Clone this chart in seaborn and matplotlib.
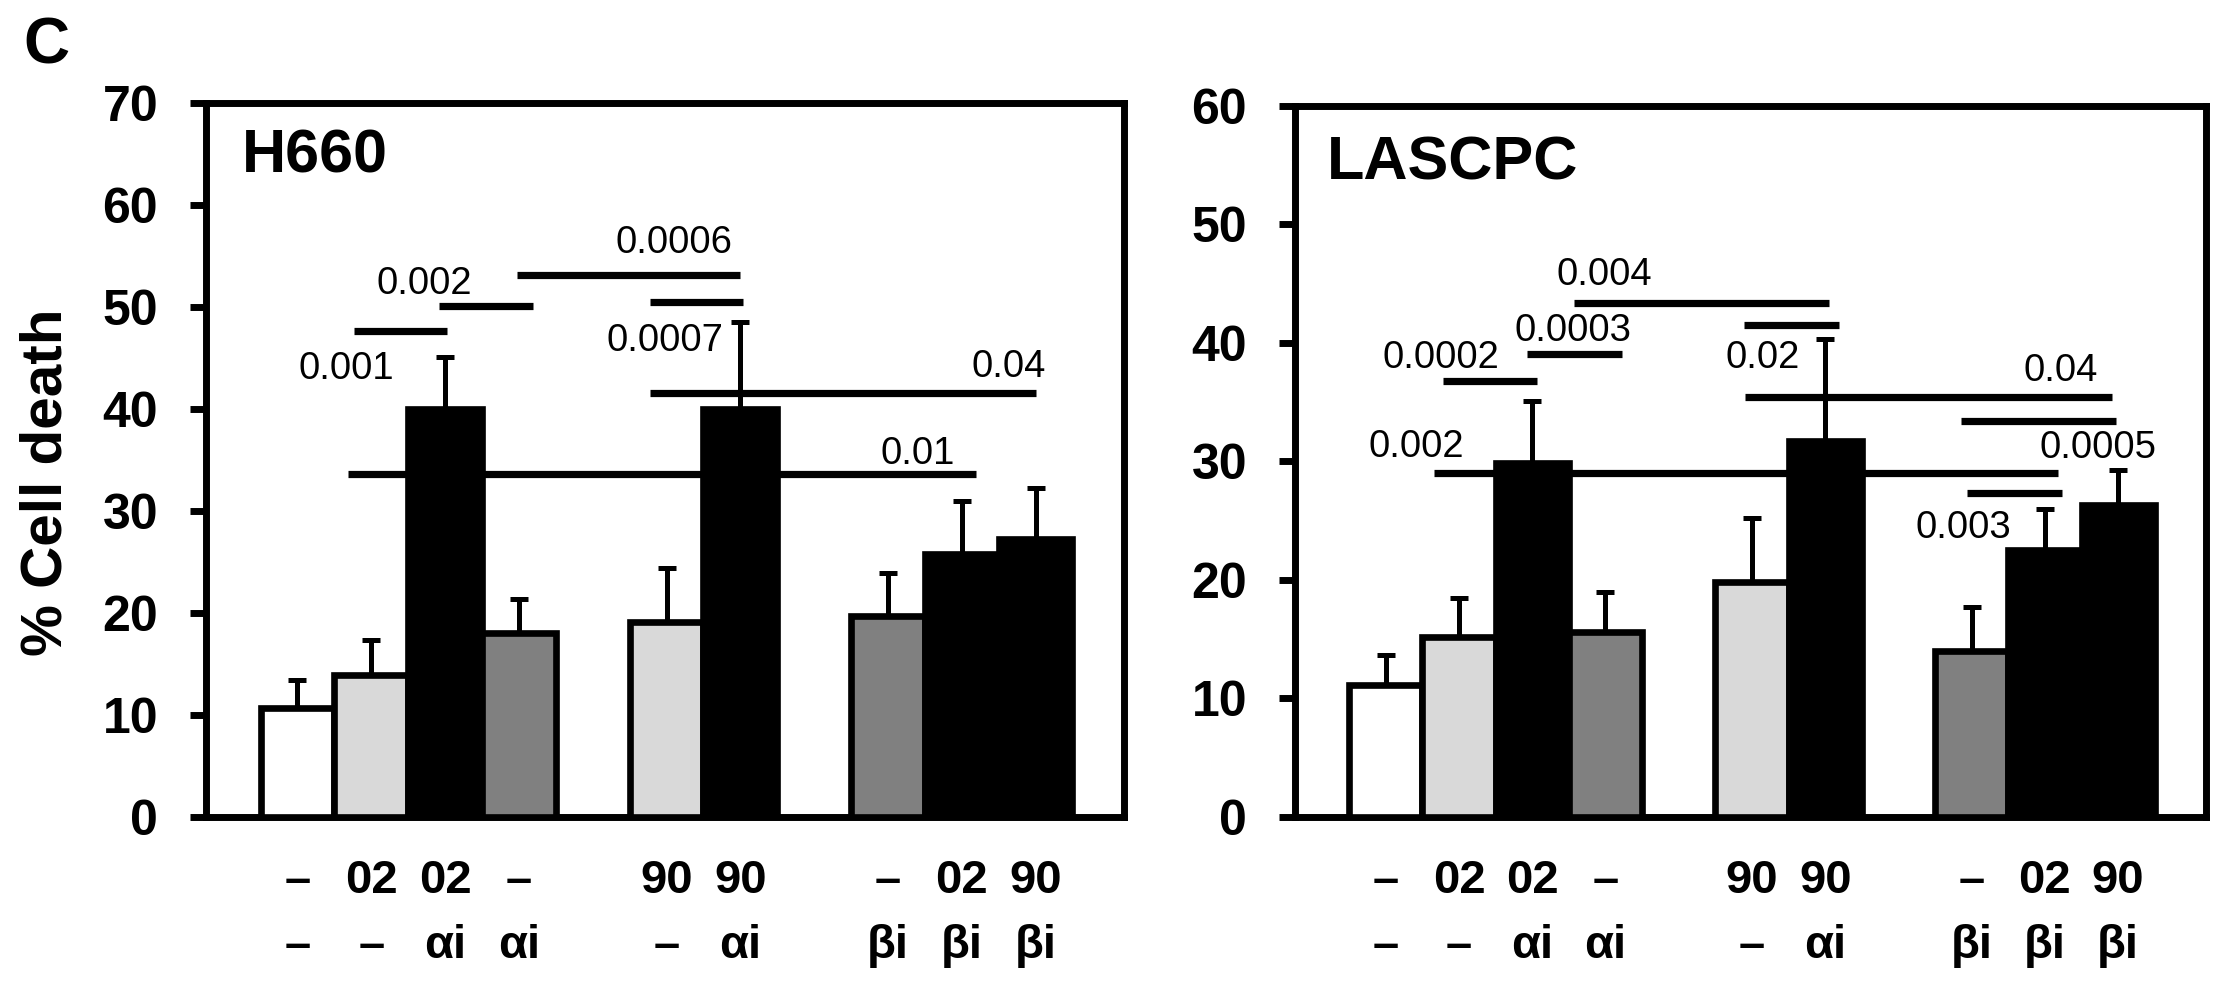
import numpy as np
import pandas as pd
import matplotlib
matplotlib.use("Agg")
import matplotlib.pyplot as plt
import seaborn as sns

# slot layout: 11 positions, two empty gap slots between the groups
slots = ["s0", "s1", "s2", "s3", "gap1", "s5", "s6", "gap2", "s8", "s9", "s10"]
bar_slots = ["s0", "s1", "s2", "s3", "s5", "s6", "s8", "s9", "s10"]
bar_colors = ["white", "#d9d9d9", "black", "#808080", "#d9d9d9", "black",
              "#808080", "black", "black"]

# treatment labels under each bar (two rows)
row1 = ["–", "02", "02", "–", "90", "90", "–", "02", "90"]
row2 = ["–", "–", "αi", "αi", "–", "αi", "βi", "βi", "βi"]

# % cell death, mean and upper error
h660_mean = [10.7, 13.9, 40.0, 18.0, 19.1, 40.0, 19.7, 25.8, 27.3]
h660_err = [2.7, 3.5, 5.1, 3.4, 5.3, 8.5, 4.2, 5.2, 5.0]
lascpc_mean = [11.1, 15.2, 29.9, 15.6, 19.8, 31.7, 14.0, 22.5, 26.3]
lascpc_err = [2.6, 3.3, 5.2, 3.4, 5.4, 8.6, 3.7, 3.5, 3.0]

# p-value brackets: (x start, x end, height) and (text, x, y)
h660_lines = [(0.77, 2.03, 47.6), (1.92, 3.19, 50.1), (2.98, 6.0, 53.1),
              (4.77, 6.03, 50.5), (4.77, 10.0, 41.6), (0.69, 9.19, 33.6)]
h660_pvals = [("0.001", 0.66, 43.9), ("0.002", 1.72, 52.3), ("0.0006", 5.1, 56.3),
              ("0.0007", 4.98, 46.7), ("0.04", 9.63, 44.1), ("0.01", 8.4, 35.6)]
lascpc_lines = [(0.66, 9.18, 29.0), (0.78, 2.07, 36.8), (1.93, 3.22, 39.1),
                (2.57, 6.05, 43.4), (4.89, 6.19, 41.5), (4.9, 9.92, 35.4),
                (7.86, 9.97, 33.4), (7.93, 9.23, 27.3)]
lascpc_pvals = [("0.002", 0.42, 31.2), ("0.0002", 0.75, 38.7), ("0.0003", 2.56, 41.0),
                ("0.004", 2.99, 45.7), ("0.02", 5.14, 38.7), ("0.04", 9.21, 37.6),
                ("0.0005", 9.73, 31.1), ("0.003", 7.89, 24.4)]

sns.set_theme(style="ticks")
plt.rcParams["font.family"] = ["Liberation Sans", "DejaVu Sans"]
plt.rcParams["font.weight"] = "bold"
for key in ["text.color", "axes.labelcolor", "xtick.color", "ytick.color", "axes.edgecolor"]:
    plt.rcParams[key] = "black"

SPINE_LW = 5
EDGE_LW = 4.8
ERR_LW = 3.6
SIG_LW = 5.2


def draw_panel(ax, means, errs, ymax, name, name_pos, lines, pvals):
    df = pd.DataFrame({"slot": bar_slots, "death": means})
    sns.barplot(data=df, x="slot", y="death", order=slots, hue="slot",
                hue_order=bar_slots, palette=dict(zip(bar_slots, bar_colors)),
                width=1.0, edgecolor="black", linewidth=EDGE_LW, errorbar=None,
                legend=False, ax=ax, zorder=3)
    xpos = [slots.index(s) for s in bar_slots]
    ax.errorbar(xpos, means, yerr=[np.zeros(len(errs)), errs], fmt="none",
                ecolor="black", elinewidth=ERR_LW, capsize=6.8, capthick=ERR_LW,
                zorder=2)

    for x0, x1, y in lines:
        ax.plot([x0, x1], [y, y], color="black", lw=SIG_LW, zorder=4,
                solid_capstyle="butt")
    for txt, x, y in pvals:
        ax.text(x, y, txt, ha="center", va="center", fontsize=27.5,
                fontweight="normal", zorder=5)
    ax.text(name_pos[0], name_pos[1], name, ha="left", va="center",
            fontsize=44, fontweight="bold")

    ax.set_xlim(-1.24, 11.2)
    ax.set_ylim(0, ymax)
    ax.set_yticks(range(0, ymax + 1, 10))
    ax.set_xticks(xpos)
    ax.set_xticklabels([a + "\n" + b for a, b in zip(row1, row2)])
    for lab in ax.get_xticklabels():
        lab.set_linespacing(1.62)
        lab.set_fontsize(34)
        lab.set_fontweight("bold")
    for lab in ax.get_yticklabels():
        lab.set_fontsize(36)
        lab.set_fontweight("bold")
    ax.tick_params(axis="x", length=0, pad=30)
    ax.tick_params(axis="y", length=11.5, width=SPINE_LW, pad=23, direction="out")
    ax.set_xlabel("")
    ax.set_ylabel("")
    for sp in ax.spines.values():
        sp.set_linewidth(SPINE_LW)
        sp.set_color("black")


fig = plt.figure(figsize=(22.22, 9.81), dpi=100)
ax1 = fig.add_axes([0.0927, 0.1672, 0.4132, 0.7278])
ax2 = fig.add_axes([0.5828, 0.1672, 0.4100, 0.7248])

draw_panel(ax1, h660_mean, h660_err, 70, "H660", (-0.76, 64.7), h660_lines, h660_pvals)
draw_panel(ax2, lascpc_mean, lascpc_err, 60, "LASCPC", (-0.81, 55.1), lascpc_lines, lascpc_pvals)

fig.text(47 / 2222, 1 - 482 / 981, "% Cell death", rotation=90, ha="center",
         va="center", fontsize=42, fontweight="bold")
fig.text(46 / 2222, 1 - 47 / 981, "C", ha="center", va="center",
         fontsize=46, fontweight="bold")

fig.savefig("out.png", dpi=100, facecolor="white")
